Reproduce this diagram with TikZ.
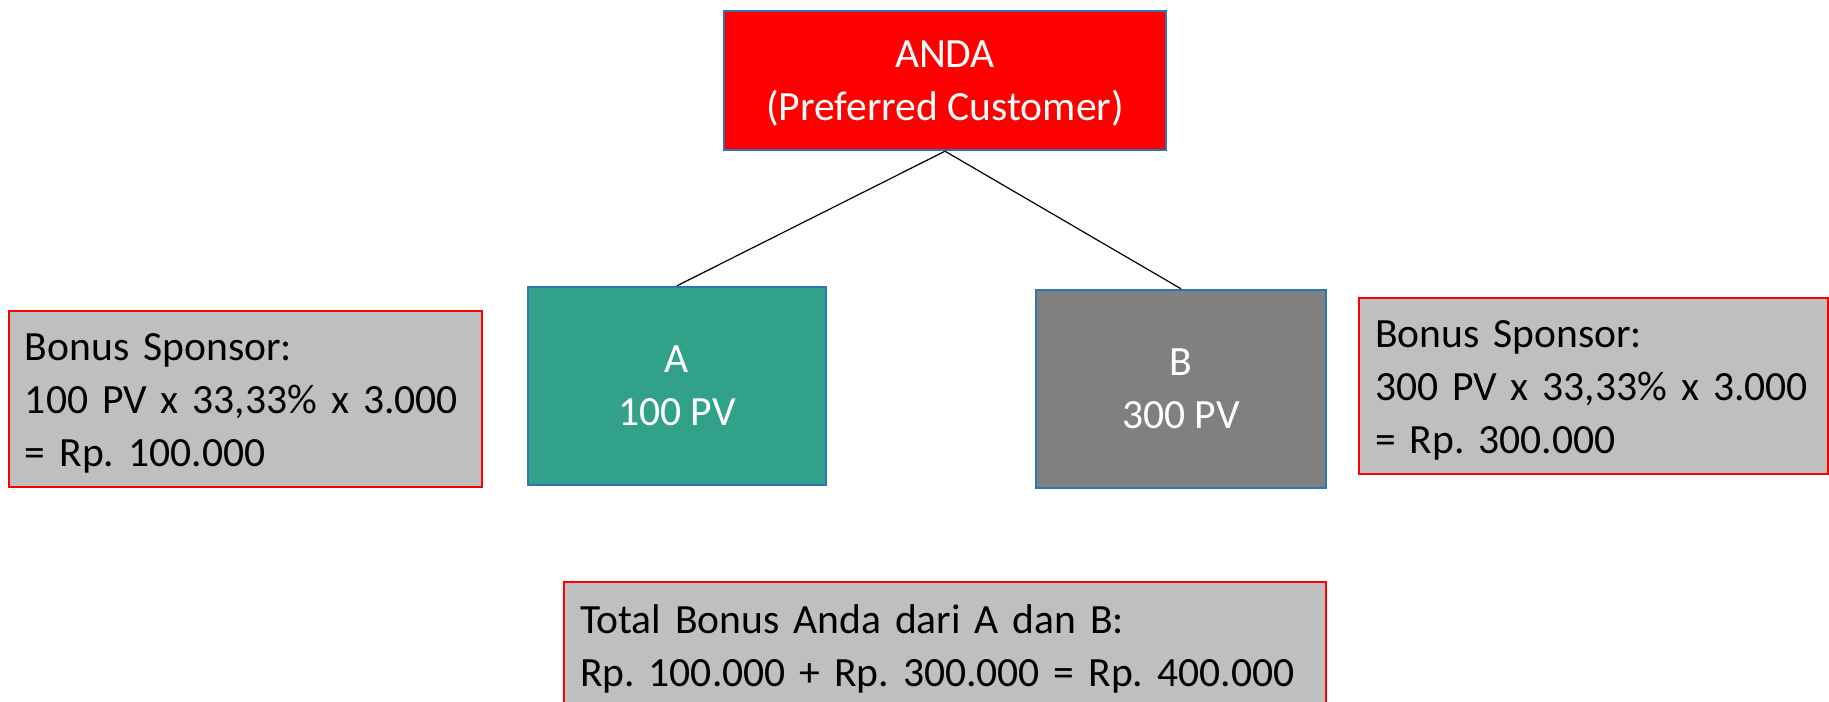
\documentclass[tikz,border=0pt]{standalone}
\usepackage{fontspec}
\setmainfont{Carlito}
\usepackage{xcolor}
\usepackage{tikz}
\usetikzlibrary{shapes,arrows}
\definecolor{edgeblue}{RGB}{46,117,182}
\definecolor{teal}{RGB}{49,161,137}
\definecolor{darkgray}{RGB}{128,128,128}
\definecolor{boxgray}{RGB}{191,191,191}
\newcommand{\bigtext}{\fontsize{20.8}{26.5}\selectfont\frenchspacing}
\tikzstyle{member} = [rectangle, draw=edgeblue, line width=1.2pt, text=white, align=center, inner sep=0pt, text depth=-5pt, font=\bigtext]
\tikzstyle{bonus} = [rectangle, draw=red, fill=boxgray, line width=0.8pt, align=left, inner xsep=8pt, inner ysep=0pt, text depth=51.5pt, font=\bigtext]
\tikzstyle{line} = [draw, line width=0.6pt]

\begin{document}
\begin{tikzpicture}[x=0.5pt,y=0.5pt]
\clip (0,0) rectangle (1829,701);
\node [member, fill=red, text depth=0pt, minimum width=221pt, minimum height=69.5pt] (anda) at (945,620.5) {ANDA\\(Preferred Customer)};
\node [member, fill=teal, minimum width=149pt, minimum height=99pt] (nodeA) at (677,315) {A\\100 PV};
\node [member, fill=darkgray, minimum width=145pt, minimum height=99pt] (nodeB) at (1181,312) {B\\300 PV};
\node [bonus, text width=220.5pt, minimum height=88pt] (bonusA) at (245.5,302) {Bonus Sponsor:\\100 PV x 33,33\% x 3.000\\= Rp. 100.000};
\node [bonus, text width=218.5pt, minimum height=88pt] (bonusB) at (1593.5,315) {Bonus Sponsor:\\300 PV x 33,33\% x 3.000\\= Rp. 300.000};
\node [bonus, text width=365pt, text depth=25pt, minimum height=62.5pt] (total) at (945,56.5) {Total Bonus Anda dari A dan B:\\Rp. 100.000 + Rp. 300.000 = Rp. 400.000};
\path [line] (anda.south) -- (nodeA.north);
\path [line] (anda.south) -- (nodeB.north);
\end{tikzpicture}
\end{document}
